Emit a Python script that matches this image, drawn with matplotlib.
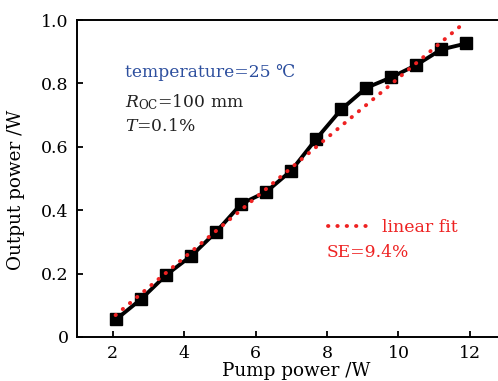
import matplotlib
matplotlib.use('Agg')
import matplotlib.pyplot as plt

# Measured points
pump_power = [2.1, 2.8, 3.5, 4.2, 4.9, 5.6, 6.3, 7.0, 7.7, 8.4, 9.1, 9.8, 10.5, 11.2, 11.9]
output_power = [0.056, 0.120, 0.196, 0.256, 0.332, 0.420, 0.458, 0.525, 0.625, 0.718,
                0.786, 0.819, 0.858, 0.907, 0.926]

# Linear fit end points
fit_x = [2.08, 11.8]
fit_y = [0.069, 0.987]

x_ticks = [2, 4, 6, 8, 10, 12]
y_ticks = [0, 0.2, 0.4, 0.6, 0.8, 1.0]
y_tick_labels = ['0', '0.2', '0.4', '0.6', '0.8', '1.0']

plt.rcParams['font.family'] = ['DejaVu Serif']
plt.rcParams['mathtext.fontset'] = 'dejavuserif'


def main():
    fig = plt.figure(figsize=(4.98, 3.81), dpi=100)
    # axes run past the right edge of the picture, so no right spine shows
    ax = fig.add_axes([0.1546, 0.1155, 0.88, 0.832])

    ax.plot(fit_x, fit_y, color='#ee2222', linestyle=(0, (0.1, 2.3)), linewidth=2.8,
            dash_capstyle='round', label='linear fit', zorder=3)
    ax.plot(pump_power, output_power, color='black', linewidth=2.8, marker='s',
            markersize=8, zorder=2)

    ax.set_xlim(1, 13.27)
    ax.set_ylim(0, 1.0)
    ax.set_xticks(x_ticks)
    ax.set_yticks(y_ticks)
    ax.set_yticklabels(y_tick_labels)
    ax.tick_params(direction='in', length=4, width=1.3, labelsize=12.5, pad=6)
    for s in ax.spines.values():
        s.set_linewidth(1.4)
    ax.spines['right'].set_visible(False)

    ax.set_xlabel('Pump power /W', fontsize=13.2, labelpad=0)
    ax.set_ylabel('Output power /W', fontsize=13.2)
    ax.yaxis.set_label_coords(-0.118, 0.464)

    ax.text(2.34, 0.833, 'temperature=25 \u2103', color='#2d4f9e', fontsize=12.3, va='center')
    ax.text(2.34, 0.742, r'$R_{\mathrm{OC}}$=100 mm', color='#222222', fontsize=12.3, va='center')
    ax.text(2.34, 0.663, r'$T$=0.1%', color='#222222', fontsize=12.3, va='center')

    ax.legend(loc='center left', bbox_to_anchor=(0.572, 0.344), frameon=False,
              fontsize=12.5, labelcolor='#ee2222', handlelength=2.6, handletextpad=0.55,
              borderpad=0, borderaxespad=0)
    ax.text(8.0, 0.268, 'SE=9.4%', color='#ee2222', fontsize=12.3, va='center')

    fig.savefig('out.png', dpi=100)


if __name__ == '__main__':
    main()
